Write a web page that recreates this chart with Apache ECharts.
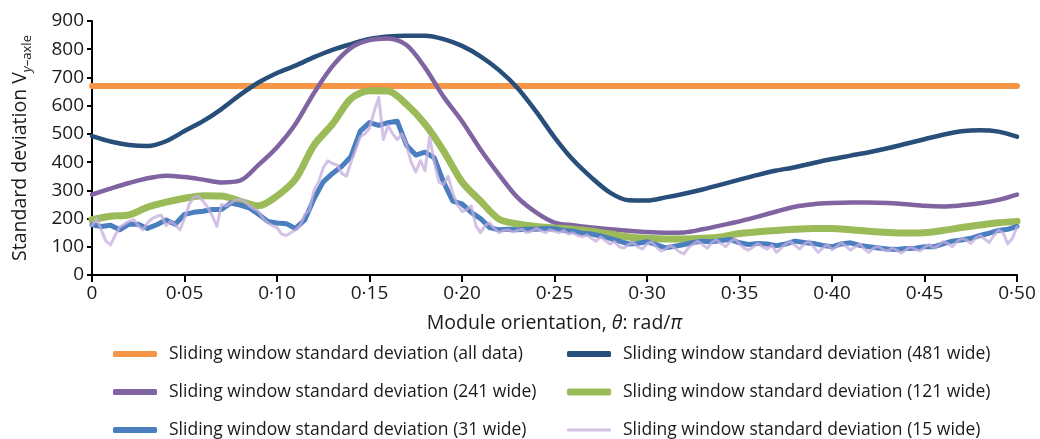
<!DOCTYPE html>
<html>
<head>
<meta charset="utf-8">
<script src="https://cdn.jsdelivr.net/npm/echarts@6/dist/echarts.min.js"></script>
<style>
  html, body { margin: 0; padding: 0; background: #fff; }
  #chart { width: 1040px; height: 439px; }
</style>
</head>
<body>
<div id="chart"></div>
<script>
// Module orientation axis (rad/π)
const X_MIN = 0;
const X_MAX = 0.5;
const X_TICK_STEP = 0.05;
const Y_TICK_STEP = 100;
const Y_MAX = 900;

// Standard deviation over all data (constant)
const allDataSD = 670;

// 481-wide sliding window, sampled every 0.01
const step481 = 0.01;
const sd481 = [492,473,461,457,474,510,545,588,638,682,716,742,772,798,818,836,845,848,848,836,
  812,775,726,663,580,488,408,345,292,265,264,275,288,303,320,338,355,370,382,397,
  411,423,435,449,465,481,497,509,513,508,490];

// 241-wide sliding window, sampled every 0.01
const step241 = 0.01;
const sd241 = [285,306,326,343,352,347,338,328,334,390,453,535,645,740,805,832,838,815,735,632,
  545,445,356,275,222,186,176,168,162,157,152,150,151,162,176,190,207,225,242,251,
  255,257,257,255,251,245,243,247,254,266,285];

// 121-wide sliding window, sampled every 0.01
const step121 = 0.01;
const sd121 = [196,208,213,240,258,272,281,280,262,245,280,340,460,535,625,653,652,605,535,440,
  330,262,198,181,172,167,162,155,145,135,130,128,128,130,135,147,153,158,162,165,
  165,160,155,151,149,150,158,168,177,185,190];

// 31-wide sliding window, sampled every 0.005
const step31 = 0.005;
const sd31 = [178,172,176,160,180,180,165,178,195,180,
  215,222,226,232,232,255,248,238,215,190,
  184,182,165,195,270,330,360,385,420,510,
  540,530,540,545,460,425,435,415,330,262,
  252,222,200,168,160,162,160,162,162,165,
  164,158,155,148,145,138,130,120,110,112,
  118,108,96,102,108,115,120,118,122,126,
  114,108,112,110,104,110,120,115,112,105,
  100,110,114,105,100,96,92,90,94,95,
  100,100,110,120,124,130,140,148,158,162,
  172];

// 15-wide sliding window, sampled every 0.0025
const step15 = 0.0025;
const sd15 = [175,200,160,120,107,140,170,180,190,196,175,160,185,200,208,212,175,190,178,160,200,
  250,275,280,262,240,210,172,250,245,255,265,268,262,245,235,225,200,185,175,168,
  145,140,150,160,175,215,230,300,330,380,405,395,390,360,350,400,445,490,500,520,
  580,630,480,530,500,480,500,460,400,365,405,370,490,400,330,320,350,290,250,225,
  232,245,175,150,175,185,165,150,158,160,152,158,162,150,155,165,158,150,160,155,
  150,158,145,150,140,135,142,130,120,135,122,110,118,100,95,108,115,100,92,110,
  118,100,85,92,104,95,82,75,98,110,120,108,95,115,125,112,100,118,128,110,
  95,88,100,112,100,92,105,80,95,110,118,105,92,110,120,100,80,95,108,90,
  100,115,102,88,100,110,92,80,95,102,90,85,95,88,78,90,100,92,85,98,
  108,95,105,118,112,100,118,130,125,112,130,140,128,115,140,160,150,110,130,170];

const legendNames = {
  all: 'Sliding window standard deviation (all data)',
  w481: 'Sliding window standard deviation (481 wide)',
  w241: 'Sliding window standard deviation (241 wide)',
  w121: 'Sliding window standard deviation (121 wide)',
  w31: 'Sliding window standard deviation (31 wide)',
  w15: 'Sliding window standard deviation (15 wide)'
};

const COLORS = {
  all: '#F79646',
  w481: '#284E7A',
  w241: '#8064A2',
  w121: '#9BBB59',
  w31: '#4A7EBF',
  w15: '#C4AEDD'
};

// Pair each sampled value with its orientation
function toPoints(values, step) {
  return values.map((v, i) => [+(i * step).toFixed(4), v]);
}

const FONT = '"Open Sans", "Noto Sans", sans-serif';
const TEXT = '#1a1a1a';

function lineSeries(key, data, width, opts) {
  opts = opts || {};
  const opacity = opts.opacity == null ? 1 : opts.opacity;
  return {
    name: legendNames[key],
    type: 'line',
    data: data,
    showSymbol: false,
    symbol: 'none',
    smooth: opts.smooth || false,
    animation: false,
    lineStyle: { color: COLORS[key], width: width, opacity: opacity, cap: 'round', join: 'round' },
    itemStyle: { color: COLORS[key], opacity: opacity }
  };
}

// One legend block per entry, laid out as a two-column grid
function legendItem(key, left, rowCenter, iconHeight) {
  return {
    left: left,
    top: rowCenter - 11,
    orient: 'horizontal',
    icon: 'roundRect',
    itemWidth: 44,
    itemHeight: iconHeight,
    padding: 0,
    textStyle: { fontFamily: FONT, fontSize: 17.5, color: TEXT, lineHeight: 22, padding: [0, 0, 0, 7] },
    data: [legendNames[key]]
  };
}

const chart = echarts.init(document.getElementById('chart'), null, { renderer: 'canvas' });
chart.setOption({
  backgroundColor: '#ffffff',
  animation: false,
  grid: { left: 92, right: 23, top: 21, bottom: 164, containLabel: false },
  legend: [
    legendItem('all', 113, 354, 6),
    legendItem('w241', 113, 392, 6),
    legendItem('w31', 113, 430, 6),
    legendItem('w481', 567, 354, 6),
    legendItem('w121', 567, 392, 7),
    legendItem('w15', 567, 430, 3)
  ],
  xAxis: {
    type: 'value',
    min: X_MIN,
    max: X_MAX,
    interval: X_TICK_STEP,
    name: '{t|Module orientation, }{i|θ}{t|: rad/}{i|π}',
    nameLocation: 'middle',
    nameGap: 38,
    nameTextStyle: {
      rich: {
        t: { fontFamily: FONT, fontSize: 19.5, color: TEXT },
        i: { fontFamily: FONT, fontSize: 19.5, color: TEXT, fontStyle: 'italic' }
      }
    },
    axisLine: { lineStyle: { color: '#000', width: 2 } },
    axisTick: { show: true, inside: false, length: 7, lineStyle: { color: '#000', width: 2 } },
    axisLabel: {
      margin: 9,
      fontFamily: FONT, fontSize: 19, color: TEXT,
      formatter: v => (v === 0 ? '0' : v.toFixed(2).replace('.', '·'))
    },
    splitLine: { show: false }
  },
  yAxis: {
    type: 'value',
    min: 0,
    max: Y_MAX,
    interval: Y_TICK_STEP,
    name: '{a|Standard deviation V}{bi|y}{b|–axle}',
    nameLocation: 'middle',
    nameGap: 58,
    nameRotate: 90,
    nameTextStyle: {
      rich: {
        a: { fontFamily: FONT, fontSize: 19.5, color: TEXT, lineHeight: 28, verticalAlign: 'middle' },
        bi: { fontFamily: FONT, fontSize: 13, color: TEXT, lineHeight: 28, verticalAlign: 'bottom', fontStyle: 'italic' },
        b: { fontFamily: FONT, fontSize: 13, color: TEXT, lineHeight: 28, verticalAlign: 'bottom' }
      }
    },
    axisLine: { show: true, lineStyle: { color: '#000', width: 2 } },
    axisTick: { show: true, inside: false, length: 5, lineStyle: { color: '#000', width: 2 } },
    axisLabel: { margin: 8, fontFamily: FONT, fontSize: 19, color: TEXT },
    splitLine: { show: false }
  },
  series: [
    lineSeries('all', [[X_MIN, allDataSD], [X_MAX, allDataSD]], 6),
    lineSeries('w481', toPoints(sd481, step481), 4.5, { smooth: 0.3 }),
    lineSeries('w241', toPoints(sd241, step241), 4.5, { smooth: 0.3 }),
    lineSeries('w121', toPoints(sd121, step121), 7, { smooth: 0.3 }),
    lineSeries('w31', toPoints(sd31, step31), 5),
    lineSeries('w15', toPoints(sd15, step15), 3, { opacity: 0.75 })
  ]
});
</script>
</body>
</html>
